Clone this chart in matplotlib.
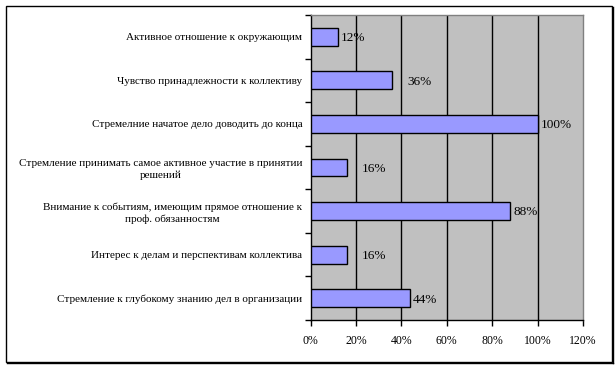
import matplotlib
matplotlib.use("Agg")
import matplotlib.pyplot as plt
from matplotlib.patches import Rectangle
from matplotlib.lines import Line2D

categories = [
    "Активное отношение к окружающим",
    "Чувство принадлежности к коллективу",
    "Стремелние начатое дело доводить до конца",
    "Стремление принимать самое активное участие в принятии\nрешений",
    "Внимание к событиям, имеющим прямое отношение к\nпроф. обязанностям",
    "Интерес к делам и перспективам коллектива",
    "Стремление к глубокому знанию дел в организации",
]
values = [12, 36, 100, 16, 88, 16, 44]
value_labels = ["12%", "36%", "100%", "16%", "88%", "16%", "44%"]
label_offsets = [1, 10, 1, 10, 1, 10, 1]  # points, Excel label placement
xticks = [0, 20, 40, 60, 80, 100, 120]
xtick_labels = ["0%", "20%", "40%", "60%", "80%", "100%", "120%"]

plt.rcParams['font.family'] = ['Liberation Serif', 'DejaVu Serif']

W, H = 615, 367
fig = plt.figure(figsize=(W / 100, H / 100), dpi=100)
fig.patch.set_facecolor('white')

# outer chart border with slight shadow
bl, bt, br, bb = 5.5, 5.5, 611.5, 361.5
fig.add_artist(Rectangle((bl / W, 1 - bb / H), (br - bl) / W, (bb - bt) / H, transform=fig.transFigure,
                         facecolor='white', edgecolor='black', linewidth=1.0, zorder=0.5))
fig.add_artist(Line2D([(br + 1) / W, (br + 1) / W], [1 - (bt + 1) / H, 1 - (bb + 1) / H],
                      transform=fig.transFigure, color='black', linewidth=1.0))
fig.add_artist(Line2D([(bl + 1) / W, (br + 1) / W], [1 - (bb + 1) / H, 1 - (bb + 1) / H],
                      transform=fig.transFigure, color='black', linewidth=1.0))

left, right, top, bottom = 310.5, 583, 15, 320
ax = fig.add_axes([left / W, 1 - bottom / H, (right - left) / W, (bottom - top) / H])
ax.set_facecolor('#C0C0C0')
ax.set_zorder(1)

ypos = list(range(len(categories)))
ax.barh(ypos, values, height=0.41, color='#9999FF', edgecolor='black', linewidth=1.0, zorder=3)

for y, v, lab, off in zip(ypos, values, value_labels, label_offsets):
    ax.annotate(lab, xy=(v, y), xytext=(off + 1, -1), textcoords='offset points',
                ha='left', va='center', fontsize=9.5, zorder=4)

ax.set_xlim(0, 120)
ax.set_ylim(len(categories) - 0.5, -0.5)
ax.set_xticks(xticks)
ax.set_xticklabels(xtick_labels, fontsize=8.5)
ax.set_yticks(ypos)
ax.set_yticklabels(categories, fontsize=8, ha='right', multialignment='center', linespacing=1.35)
ax.tick_params(axis='y', length=0, pad=6)
ax.tick_params(axis='x', length=4, width=1, direction='out', pad=7, color='black')
ax.set_yticks([i - 0.5 for i in range(len(categories) + 1)], minor=True)
ax.tick_params(axis='y', which='minor', length=4, width=1, direction='out', color='black')

for x in xticks[1:-1]:
    ax.axvline(x, color='black', linewidth=1.0, zorder=2)

for s in ['top', 'right']:
    ax.spines[s].set_color('#808080')
    ax.spines[s].set_linewidth(1.0)
for s in ['left', 'bottom']:
    ax.spines[s].set_color('black')
    ax.spines[s].set_linewidth(1.0)

fig.savefig('out.png', dpi=100, facecolor='white')
